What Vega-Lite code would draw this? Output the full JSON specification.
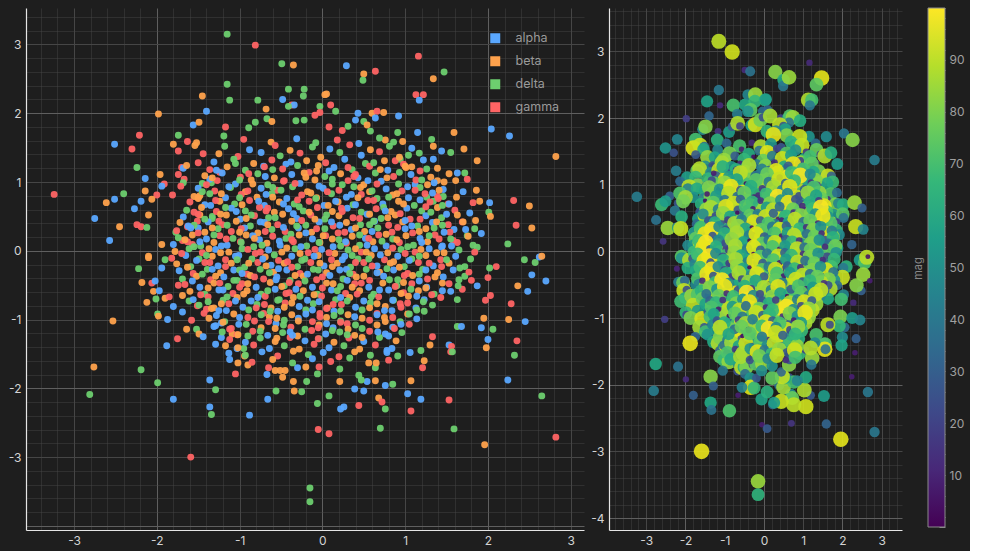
{
"$schema":"https://vega.github.io/schema/vega-lite/v6.json",
"background":"#1e1e1e",
"padding":{"left":8,"top":2,"right":5,"bottom":5},
"config":{"view":{"stroke":null},"font":"Inter"},
"datasets":{"pts":[
{"x":-1.15,"y":3.15,"cat":"delta","mag":90},{"x":-0.81,"y":2.99,"cat":"gamma","mag":93},{"x":-0.49,"y":2.72,"cat":"delta","mag":12},{"x":-0.35,"y":2.70,"cat":"beta","mag":38},{"x":-1.15,"y":2.42,"cat":"delta","mag":40},{"x":-1.45,"y":2.25,"cat":"beta","mag":58},{"x":-1.12,"y":2.19,"cat":"delta","mag":12},{"x":-1.40,"y":2.03,"cat":"alpha","mag":33},{"x":-1.98,"y":1.99,"cat":"beta","mag":18},{"x":-1.56,"y":1.83,"cat":"alpha","mag":47},{"x":-1.49,"y":1.87,"cat":"beta","mag":82},{"x":-1.17,"y":1.80,"cat":"gamma","mag":15},{"x":-1.19,"y":1.67,"cat":"delta","mag":64},{"x":-0.89,"y":1.79,"cat":"delta","mag":55},{"x":-0.81,"y":1.87,"cat":"delta","mag":28},{"x":-0.78,"y":2.19,"cat":"delta","mag":71},{"x":-0.48,"y":2.20,"cat":"alpha","mag":60},{"x":-0.41,"y":2.35,"cat":"delta","mag":45},{"x":-0.22,"y":2.35,"cat":"delta","mag":85},{"x":-0.23,"y":2.25,"cat":"delta","mag":66},{"x":-0.37,"y":2.12,"cat":"gamma","mag":30},{"x":-0.34,"y":2.12,"cat":"alpha","mag":75},{"x":-0.41,"y":2.10,"cat":"delta","mag":50},{"x":-0.68,"y":2.06,"cat":"beta","mag":42},{"x":-0.67,"y":1.92,"cat":"delta","mag":88},{"x":-0.61,"y":1.88,"cat":"beta","mag":20},{"x":-0.32,"y":1.89,"cat":"delta","mag":57},{"x":-0.22,"y":1.90,"cat":"delta","mag":93},{"x":-0.03,"y":2.10,"cat":"delta","mag":35},{"x":-0.09,"y":1.97,"cat":"gamma","mag":78},{"x":-0.03,"y":2.01,"cat":"gamma","mag":24},{"x":0.03,"y":2.27,"cat":"beta","mag":62},
{"x":-2.21,"y":1.68,"cat":"gamma","mag":45},{"x":-2.51,"y":1.55,"cat":"alpha","mag":52},{"x":-2.30,"y":1.48,"cat":"gamma","mag":25},{"x":-1.74,"y":1.68,"cat":"delta","mag":70},{"x":-1.80,"y":1.55,"cat":"beta","mag":95},{"x":-1.63,"y":1.59,"cat":"gamma","mag":92},{"x":-1.52,"y":1.57,"cat":"beta","mag":36},{"x":-1.54,"y":1.53,"cat":"beta","mag":61},{"x":-1.74,"y":1.45,"cat":"gamma","mag":28},{"x":-1.44,"y":1.41,"cat":"gamma","mag":84},{"x":-1.50,"y":1.28,"cat":"gamma","mag":48},{"x":-2.24,"y":1.21,"cat":"delta","mag":42},{"x":-1.70,"y":1.21,"cat":"gamma","mag":76},{"x":-1.68,"y":1.20,"cat":"alpha","mag":38},{"x":-1.64,"y":1.24,"cat":"beta","mag":89},{"x":-1.96,"y":1.11,"cat":"beta","mag":56},{"x":-2.14,"y":1.05,"cat":"alpha","mag":35},{"x":-1.74,"y":1.11,"cat":"gamma","mag":67},{"x":-1.67,"y":1.04,"cat":"gamma","mag":22},{"x":-1.68,"y":0.99,"cat":"delta","mag":81},{"x":-1.91,"y":0.97,"cat":"gamma","mag":90},{"x":-1.94,"y":0.94,"cat":"alpha","mag":44},{"x":-1.71,"y":0.94,"cat":"gamma","mag":60},{"x":-3.24,"y":0.82,"cat":"gamma","mag":42},{"x":-2.40,"y":0.83,"cat":"delta","mag":30},{"x":-2.14,"y":0.87,"cat":"beta","mag":72},{"x":-1.81,"y":0.81,"cat":"gamma","mag":51},{"x":-2.00,"y":0.81,"cat":"gamma","mag":86},{"x":-2.61,"y":0.70,"cat":"beta","mag":68},{"x":-2.51,"y":0.75,"cat":"alpha","mag":55},{"x":-2.19,"y":0.72,"cat":"alpha","mag":26},{"x":-2.06,"y":0.75,"cat":"beta","mag":79},{"x":-2.27,"y":0.61,"cat":"alpha","mag":40},{"x":-2.10,"y":0.52,"cat":"beta","mag":63},{"x":-2.75,"y":0.47,"cat":"alpha","mag":38},{"x":-2.45,"y":0.35,"cat":"beta","mag":85},{"x":-2.24,"y":0.38,"cat":"gamma","mag":17},{"x":-2.19,"y":0.35,"cat":"gamma","mag":58},{"x":-2.12,"y":0.34,"cat":"delta","mag":92},{"x":-2.57,"y":0.15,"cat":"alpha","mag":15},{"x":-1.94,"y":0.09,"cat":"beta","mag":47},{"x":-2.10,"y":-0.08,"cat":"beta","mag":74},{"x":-1.50,"y":0.77,"cat":"gamma","mag":34},{"x":-1.48,"y":0.80,"cat":"beta","mag":88},{"x":-1.34,"y":0.99,"cat":"delta","mag":57},{"x":-1.36,"y":1.04,"cat":"alpha","mag":93},{"x":-1.24,"y":1.14,"cat":"gamma","mag":29},{"x":-1.48,"y":0.52,"cat":"beta","mag":61},{"x":-1.51,"y":0.43,"cat":"gamma","mag":82},{"x":-1.63,"y":0.35,"cat":"gamma","mag":45},{"x":-1.77,"y":0.27,"cat":"delta","mag":70},{"x":-1.69,"y":0.15,"cat":"gamma","mag":23},{"x":-1.57,"y":0.09,"cat":"gamma","mag":91},{"x":-1.50,"y":0.33,"cat":"alpha","mag":54},{"x":-1.33,"y":0.50,"cat":"delta","mag":80},
{"x":0.29,"y":2.69,"cat":"alpha","mag":82},{"x":0.50,"y":2.57,"cat":"beta","mag":60},{"x":0.49,"y":2.48,"cat":"delta","mag":40},{"x":0.64,"y":2.61,"cat":"gamma","mag":85},{"x":1.16,"y":2.83,"cat":"gamma","mag":12},{"x":1.47,"y":2.60,"cat":"delta","mag":96},{"x":1.34,"y":2.50,"cat":"beta","mag":75},{"x":1.13,"y":2.27,"cat":"gamma","mag":88},{"x":1.22,"y":2.27,"cat":"gamma","mag":70},{"x":1.17,"y":2.19,"cat":"alpha","mag":40},{"x":0.05,"y":2.28,"cat":"beta","mag":55},{"x":0.10,"y":2.12,"cat":"gamma","mag":33},{"x":0.16,"y":2.03,"cat":"delta","mag":87},{"x":0.08,"y":1.80,"cat":"gamma","mag":66},{"x":0.43,"y":2.00,"cat":"alpha","mag":20},{"x":0.60,"y":2.00,"cat":"beta","mag":48},{"x":0.66,"y":2.03,"cat":"gamma","mag":73},{"x":0.74,"y":2.01,"cat":"beta","mag":85},{"x":0.64,"y":1.93,"cat":"alpha","mag":38},{"x":0.92,"y":1.96,"cat":"alpha","mag":62},{"x":0.40,"y":1.90,"cat":"alpha","mag":90},{"x":0.50,"y":1.88,"cat":"delta","mag":27},{"x":0.54,"y":1.83,"cat":"beta","mag":58},{"x":0.58,"y":1.74,"cat":"delta","mag":81},{"x":0.31,"y":1.81,"cat":"delta","mag":44},{"x":0.24,"y":1.75,"cat":"gamma","mag":96},{"x":1.15,"y":1.72,"cat":"alpha","mag":52},{"x":0.91,"y":1.72,"cat":"delta","mag":92},{"x":0.76,"y":1.61,"cat":"beta","mag":31},{"x":0.86,"y":1.58,"cat":"delta","mag":69},{"x":1.32,"y":1.62,"cat":"delta","mag":35},{"x":1.34,"y":1.52,"cat":"beta","mag":77},{"x":1.59,"y":1.72,"cat":"beta","mag":48},{"x":2.04,"y":1.77,"cat":"alpha","mag":40},{"x":2.26,"y":1.67,"cat":"alpha","mag":82},{"x":2.82,"y":1.37,"cat":"beta","mag":42},{"x":1.44,"y":1.45,"cat":"alpha","mag":21},{"x":1.55,"y":1.43,"cat":"delta","mag":88},{"x":1.71,"y":1.48,"cat":"beta","mag":63},{"x":1.34,"y":1.33,"cat":"alpha","mag":10},{"x":1.87,"y":1.31,"cat":"beta","mag":55},{"x":1.39,"y":1.20,"cat":"beta","mag":79},{"x":1.53,"y":1.12,"cat":"beta","mag":46},{"x":1.63,"y":1.13,"cat":"alpha","mag":92},{"x":1.72,"y":1.13,"cat":"delta","mag":30},{"x":1.75,"y":1.04,"cat":"gamma","mag":68},{"x":1.39,"y":1.02,"cat":"beta","mag":84},{"x":1.47,"y":1.00,"cat":"beta","mag":17},{"x":1.61,"y":1.02,"cat":"beta","mag":59},{"x":1.46,"y":0.89,"cat":"alpha","mag":40},{"x":1.70,"y":0.86,"cat":"alpha","mag":73},{"x":1.86,"y":0.88,"cat":"beta","mag":36},{"x":1.39,"y":0.79,"cat":"gamma","mag":90},{"x":1.26,"y":0.78,"cat":"delta","mag":25},{"x":1.34,"y":0.72,"cat":"delta","mag":64},{"x":1.52,"y":0.68,"cat":"gamma","mag":57},{"x":1.62,"y":0.78,"cat":"beta","mag":14},{"x":1.82,"y":0.70,"cat":"gamma","mag":80},{"x":1.90,"y":0.72,"cat":"beta","mag":45},{"x":2.02,"y":0.70,"cat":"alpha","mag":62},{"x":2.31,"y":0.73,"cat":"gamma","mag":85},{"x":2.50,"y":0.65,"cat":"beta","mag":30},{"x":1.78,"y":0.55,"cat":"alpha","mag":52},{"x":2.01,"y":0.56,"cat":"delta","mag":74},{"x":2.03,"y":0.50,"cat":"beta","mag":38},{"x":1.69,"y":0.42,"cat":"gamma","mag":91},{"x":1.85,"y":0.44,"cat":"beta","mag":20},{"x":1.84,"y":0.32,"cat":"delta","mag":66},{"x":1.92,"y":0.25,"cat":"alpha","mag":48},{"x":2.34,"y":0.37,"cat":"gamma","mag":92},{"x":2.53,"y":0.33,"cat":"beta","mag":45},{"x":1.75,"y":0.22,"cat":"delta","mag":83},{"x":1.59,"y":0.31,"cat":"alpha","mag":28},{"x":1.58,"y":0.15,"cat":"gamma","mag":71},{"x":1.87,"y":0.05,"cat":"delta","mag":57},{"x":2.24,"y":0.10,"cat":"delta","mag":32},{"x":1.44,"y":0.05,"cat":"alpha","mag":94},{"x":1.04,"y":1.39,"cat":"delta","mag":62},{"x":1.08,"y":1.22,"cat":"beta","mag":37},{"x":0.94,"y":1.33,"cat":"delta","mag":85},{"x":0.88,"y":1.31,"cat":"gamma","mag":19},{"x":1.12,"y":0.96,"cat":"alpha","mag":71},
{"x":-2.10,"y":-0.10,"cat":"beta","mag":50},{"x":-1.90,"y":-0.13,"cat":"delta","mag":88},{"x":-2.22,"y":-0.26,"cat":"delta","mag":10},{"x":-1.94,"y":-0.25,"cat":"alpha","mag":62},{"x":-2.18,"y":-0.46,"cat":"beta","mag":42},{"x":-2.06,"y":-0.47,"cat":"gamma","mag":77},{"x":-2.02,"y":-0.44,"cat":"alpha","mag":33},{"x":-2.04,"y":-0.59,"cat":"beta","mag":91},{"x":-1.97,"y":-0.58,"cat":"alpha","mag":24},{"x":-2.01,"y":-0.70,"cat":"delta","mag":58},{"x":-2.12,"y":-0.75,"cat":"beta","mag":69},{"x":-1.90,"y":-0.69,"cat":"beta","mag":36},{"x":-1.85,"y":-0.67,"cat":"gamma","mag":84},{"x":-1.74,"y":-0.50,"cat":"gamma","mag":47},{"x":-1.69,"y":-0.65,"cat":"beta","mag":73},{"x":-1.61,"y":-0.73,"cat":"delta","mag":29},{"x":-1.80,"y":-0.81,"cat":"alpha","mag":90},{"x":-1.69,"y":-0.89,"cat":"alpha","mag":55},{"x":-1.99,"y":-0.92,"cat":"delta","mag":66},{"x":-1.98,"y":-0.95,"cat":"beta","mag":21},{"x":-1.87,"y":-1.00,"cat":"alpha","mag":80},{"x":-2.53,"y":-1.02,"cat":"beta","mag":18},{"x":-1.58,"y":-1.01,"cat":"gamma","mag":94},{"x":-1.51,"y":-0.80,"cat":"gamma","mag":39},{"x":-1.40,"y":-0.85,"cat":"gamma","mag":61},{"x":-1.64,"y":-1.14,"cat":"beta","mag":86},{"x":-1.52,"y":-1.14,"cat":"delta","mag":27},{"x":-1.49,"y":-1.21,"cat":"beta","mag":70},{"x":-1.44,"y":-1.25,"cat":"alpha","mag":52},{"x":-1.75,"y":-1.28,"cat":"gamma","mag":33},{"x":-1.88,"y":-1.38,"cat":"alpha","mag":97},{"x":-1.31,"y":-1.10,"cat":"alpha","mag":45},{"x":-1.22,"y":-1.05,"cat":"alpha","mag":78},{"x":-1.22,"y":-1.26,"cat":"alpha","mag":14},{"x":-1.29,"y":-1.36,"cat":"alpha","mag":60},{"x":-1.17,"y":-1.38,"cat":"beta","mag":88},{"x":-1.13,"y":-1.49,"cat":"alpha","mag":31},{"x":-1.12,"y":-1.58,"cat":"alpha","mag":75},{"x":-1.03,"y":-1.42,"cat":"alpha","mag":50},{"x":-0.95,"y":-1.42,"cat":"delta","mag":93},{"x":-0.94,"y":-1.53,"cat":"beta","mag":22},{"x":-1.02,"y":-1.63,"cat":"beta","mag":68},{"x":-0.90,"y":-1.66,"cat":"beta","mag":84},{"x":-1.05,"y":-1.79,"cat":"gamma","mag":40},{"x":-1.09,"y":-1.21,"cat":"beta","mag":57},{"x":-1.03,"y":-1.22,"cat":"gamma","mag":82},{"x":-2.76,"y":-1.69,"cat":"beta","mag":60},{"x":-2.19,"y":-1.73,"cat":"delta","mag":38},{"x":-1.99,"y":-1.92,"cat":"delta","mag":12},{"x":-2.81,"y":-2.09,"cat":"delta","mag":42},{"x":-1.80,"y":-2.16,"cat":"alpha","mag":30},{"x":-1.36,"y":-1.88,"cat":"alpha","mag":82},{"x":-1.29,"y":-2.02,"cat":"delta","mag":30},{"x":-1.36,"y":-2.27,"cat":"alpha","mag":60},{"x":-1.34,"y":-2.38,"cat":"delta","mag":38},{"x":-0.88,"y":-2.39,"cat":"alpha","mag":72},{"x":-1.59,"y":-3.00,"cat":"gamma","mag":97},{"x":-0.65,"y":-1.70,"cat":"gamma","mag":46},{"x":-0.67,"y":-1.80,"cat":"alpha","mag":25},{"x":-0.57,"y":-1.74,"cat":"beta","mag":90},{"x":-0.51,"y":-1.74,"cat":"beta","mag":63},{"x":-0.45,"y":-1.74,"cat":"beta","mag":81},{"x":-0.48,"y":-1.84,"cat":"beta","mag":36},{"x":-0.30,"y":-1.70,"cat":"alpha","mag":17},{"x":-0.20,"y":-1.69,"cat":"beta","mag":74},{"x":-0.35,"y":-1.90,"cat":"beta","mag":52},{"x":-0.34,"y":-2.04,"cat":"beta","mag":95},{"x":-0.56,"y":-2.04,"cat":"delta","mag":44},{"x":-0.25,"y":-2.05,"cat":"delta","mag":66},{"x":-0.19,"y":-1.90,"cat":"delta","mag":28},{"x":-0.66,"y":-2.16,"cat":"alpha","mag":8},{"x":-0.06,"y":-2.22,"cat":"delta","mag":58},{"x":-0.05,"y":-2.60,"cat":"gamma","mag":8},{"x":-0.04,"y":-1.69,"cat":"gamma","mag":85},{"x":-0.06,"y":-1.79,"cat":"delta","mag":49},{"x":-0.15,"y":-3.45,"cat":"delta","mag":85},{"x":-0.15,"y":-3.65,"cat":"delta","mag":65},
{"x":2.44,"y":-0.13,"cat":"delta","mag":55},{"x":2.57,"y":-0.17,"cat":"delta","mag":72},{"x":2.62,"y":-0.09,"cat":"alpha","mag":90},{"x":2.65,"y":-0.08,"cat":"beta","mag":5},{"x":2.53,"y":-0.35,"cat":"alpha","mag":85},{"x":2.70,"y":-0.44,"cat":"alpha","mag":8},{"x":2.48,"y":-0.59,"cat":"alpha","mag":30},{"x":2.36,"y":-0.51,"cat":"beta","mag":82},{"x":2.10,"y":-0.23,"cat":"gamma","mag":64},{"x":2.02,"y":-0.25,"cat":"delta","mag":40},{"x":2.00,"y":-0.39,"cat":"gamma","mag":92},{"x":1.66,"y":-0.25,"cat":"delta","mag":27},{"x":1.72,"y":-0.37,"cat":"delta","mag":76},{"x":1.80,"y":-0.43,"cat":"gamma","mag":51},{"x":1.87,"y":-0.51,"cat":"alpha","mag":35},{"x":1.69,"y":-0.56,"cat":"gamma","mag":88},{"x":1.63,"y":-0.71,"cat":"delta","mag":60},{"x":2.03,"y":-0.65,"cat":"gamma","mag":45},{"x":1.97,"y":-0.72,"cat":"gamma","mag":70},{"x":2.28,"y":-0.77,"cat":"gamma","mag":12},{"x":1.95,"y":-0.98,"cat":"beta","mag":80},{"x":2.25,"y":-1.00,"cat":"beta","mag":55},{"x":2.45,"y":-1.03,"cat":"alpha","mag":45},{"x":2.06,"y":-1.14,"cat":"delta","mag":35},{"x":1.92,"y":-1.12,"cat":"alpha","mag":66},{"x":1.63,"y":-1.10,"cat":"delta","mag":90},{"x":1.68,"y":-1.10,"cat":"alpha","mag":22},{"x":2.00,"y":-1.29,"cat":"alpha","mag":48},{"x":1.98,"y":-1.41,"cat":"beta","mag":58},{"x":2.35,"y":-1.31,"cat":"gamma","mag":30},{"x":2.32,"y":-1.52,"cat":"delta","mag":8},{"x":1.53,"y":-1.37,"cat":"alpha","mag":42},{"x":1.56,"y":-1.39,"cat":"gamma","mag":73},{"x":1.55,"y":-1.47,"cat":"gamma","mag":96},{"x":1.57,"y":-1.47,"cat":"delta","mag":37},{"x":2.24,"y":-1.88,"cat":"alpha","mag":8},{"x":2.65,"y":-2.11,"cat":"delta","mag":40},{"x":2.82,"y":-2.71,"cat":"gamma","mag":40},{"x":1.96,"y":-2.82,"cat":"beta","mag":96},{"x":1.59,"y":-2.59,"cat":"delta","mag":32},{"x":1.53,"y":-2.17,"cat":"gamma","mag":55},{"x":1.19,"y":-2.16,"cat":"alpha","mag":28},{"x":1.07,"y":-2.33,"cat":"gamma","mag":93},{"x":1.03,"y":-2.08,"cat":"alpha","mag":88},{"x":1.07,"y":-1.89,"cat":"beta","mag":61},{"x":0.70,"y":-2.58,"cat":"delta","mag":15},{"x":0.68,"y":-2.14,"cat":"beta","mag":47},{"x":0.72,"y":-2.20,"cat":"gamma","mag":77},{"x":0.76,"y":-2.30,"cat":"delta","mag":90},{"x":0.44,"y":-2.25,"cat":"gamma","mag":92},{"x":0.22,"y":-2.30,"cat":"alpha","mag":30},{"x":0.26,"y":-2.27,"cat":"alpha","mag":56},{"x":0.08,"y":-2.66,"cat":"gamma","mag":28},{"x":0.08,"y":-2.11,"cat":"delta","mag":64},{"x":0.39,"y":-2.01,"cat":"alpha","mag":38},{"x":0.50,"y":-2.04,"cat":"alpha","mag":86},{"x":0.64,"y":-1.89,"cat":"beta","mag":22},{"x":0.76,"y":-1.96,"cat":"alpha","mag":70},{"x":0.85,"y":-1.94,"cat":"delta","mag":45},{"x":0.54,"y":-1.90,"cat":"alpha","mag":59},{"x":0.47,"y":-1.88,"cat":"delta","mag":91},{"x":0.44,"y":-1.81,"cat":"delta","mag":33},{"x":0.21,"y":-1.90,"cat":"beta","mag":76},{"x":0.21,"y":-1.72,"cat":"delta","mag":50},{"x":0.91,"y":-1.53,"cat":"delta","mag":67},{"x":1.06,"y":-1.48,"cat":"alpha","mag":19},{"x":1.23,"y":-1.60,"cat":"beta","mag":85},{"x":1.21,"y":-1.70,"cat":"gamma","mag":40},{"x":0.78,"y":-1.45,"cat":"alpha","mag":58},{"x":0.64,"y":-1.70,"cat":"delta","mag":82},{"x":0.65,"y":-1.63,"cat":"beta","mag":27},{"x":1.33,"y":-1.25,"cat":"gamma","mag":71},{"x":1.30,"y":-1.37,"cat":"beta","mag":46},{"x":1.19,"y":-1.45,"cat":"delta","mag":89},
{"x":-0.95,"y":1.62,"cat":"gamma","mag":34},{"x":-0.62,"y":1.58,"cat":"beta","mag":71},{"x":-0.31,"y":1.63,"cat":"alpha","mag":12},{"x":-0.08,"y":1.57,"cat":"delta","mag":88},{"x":0.18,"y":1.61,"cat":"gamma","mag":53},{"x":0.44,"y":1.56,"cat":"alpha","mag":27},{"x":0.69,"y":1.64,"cat":"delta","mag":64},{"x":0.97,"y":1.59,"cat":"beta","mag":91},
{"x":-1.18,"y":1.52,"cat":"delta","mag":45},{"x":-0.88,"y":1.47,"cat":"alpha","mag":79},{"x":-0.57,"y":1.53,"cat":"gamma","mag":8},{"x":-0.39,"y":1.46,"cat":"beta","mag":62},{"x":-0.12,"y":1.51,"cat":"delta","mag":37},{"x":0.09,"y":1.48,"cat":"alpha","mag":95},{"x":0.33,"y":1.54,"cat":"gamma","mag":21},{"x":0.58,"y":1.47,"cat":"beta","mag":73},{"x":0.81,"y":1.52,"cat":"delta","mag":49},{"x":1.08,"y":1.49,"cat":"alpha","mag":16},
{"x":-1.25,"y":1.41,"cat":"beta","mag":58},{"x":-1.02,"y":1.37,"cat":"gamma","mag":84},{"x":-0.74,"y":1.43,"cat":"alpha","mag":29},{"x":-0.51,"y":1.38,"cat":"delta","mag":66},{"x":-0.27,"y":1.42,"cat":"gamma","mag":3},{"x":-0.02,"y":1.36,"cat":"beta","mag":77},{"x":0.21,"y":1.43,"cat":"delta","mag":41},{"x":0.47,"y":1.39,"cat":"alpha","mag":92},{"x":0.69,"y":1.44,"cat":"gamma","mag":55},{"x":0.93,"y":1.36,"cat":"beta","mag":19},{"x":1.17,"y":1.42,"cat":"delta","mag":70},
{"x":-1.31,"y":1.29,"cat":"alpha","mag":24},{"x":-1.07,"y":1.33,"cat":"delta","mag":87},{"x":-0.83,"y":1.27,"cat":"beta","mag":51},{"x":-0.61,"y":1.32,"cat":"gamma","mag":9},{"x":-0.44,"y":1.26,"cat":"alpha","mag":68},{"x":-0.19,"y":1.31,"cat":"beta","mag":39},{"x":0.04,"y":1.28,"cat":"gamma","mag":83},{"x":0.27,"y":1.33,"cat":"alpha","mag":14},{"x":0.52,"y":1.27,"cat":"delta","mag":61},{"x":0.75,"y":1.31,"cat":"beta","mag":97},{"x":0.98,"y":1.26,"cat":"gamma","mag":33},{"x":1.22,"y":1.32,"cat":"alpha","mag":75},
{"x":-1.36,"y":1.18,"cat":"gamma","mag":47},{"x":-1.15,"y":1.22,"cat":"beta","mag":90},{"x":-0.93,"y":1.17,"cat":"delta","mag":26},{"x":-0.71,"y":1.23,"cat":"alpha","mag":63},{"x":-0.48,"y":1.19,"cat":"gamma","mag":81},{"x":-0.30,"y":1.24,"cat":"delta","mag":7},{"x":-0.07,"y":1.16,"cat":"beta","mag":56},{"x":0.14,"y":1.21,"cat":"alpha","mag":34},{"x":0.36,"y":1.18,"cat":"delta","mag":89},{"x":0.57,"y":1.23,"cat":"gamma","mag":44},{"x":0.79,"y":1.17,"cat":"alpha","mag":72},{"x":1.01,"y":1.21,"cat":"beta","mag":18},{"x":1.26,"y":1.19,"cat":"delta","mag":60},
{"x":-1.42,"y":1.09,"cat":"beta","mag":66},{"x":-1.21,"y":1.13,"cat":"alpha","mag":31},{"x":-0.99,"y":1.07,"cat":"gamma","mag":94},{"x":-0.78,"y":1.12,"cat":"delta","mag":52},{"x":-0.58,"y":1.06,"cat":"beta","mag":11},{"x":-0.37,"y":1.11,"cat":"alpha","mag":79},{"x":-0.16,"y":1.14,"cat":"gamma","mag":42},{"x":0.03,"y":1.08,"cat":"delta","mag":87},{"x":0.22,"y":1.12,"cat":"beta","mag":23},{"x":0.43,"y":1.06,"cat":"alpha","mag":68},{"x":0.64,"y":1.13,"cat":"delta","mag":99},{"x":0.86,"y":1.08,"cat":"gamma","mag":38},{"x":1.07,"y":1.11,"cat":"alpha","mag":57},{"x":1.31,"y":1.07,"cat":"beta","mag":82},
{"x":-1.45,"y":0.98,"cat":"delta","mag":40},{"x":-1.27,"y":1.02,"cat":"gamma","mag":76},{"x":-1.05,"y":0.97,"cat":"alpha","mag":15},{"x":-0.86,"y":1.03,"cat":"beta","mag":93},{"x":-0.66,"y":0.96,"cat":"delta","mag":48},{"x":-0.47,"y":1.01,"cat":"gamma","mag":71},{"x":-0.27,"y":0.98,"cat":"alpha","mag":27},{"x":-0.09,"y":1.03,"cat":"beta","mag":85},{"x":0.12,"y":0.97,"cat":"delta","mag":5},{"x":0.31,"y":1.02,"cat":"gamma","mag":62},{"x":0.50,"y":0.96,"cat":"beta","mag":78},{"x":0.71,"y":1.01,"cat":"alpha","mag":36},{"x":0.92,"y":0.97,"cat":"delta","mag":90},{"x":1.13,"y":1.03,"cat":"gamma","mag":54},{"x":1.35,"y":0.99,"cat":"alpha","mag":21},
{"x":-1.50,"y":0.91,"cat":"alpha","mag":59},{"x":-1.30,"y":0.87,"cat":"gamma","mag":88},{"x":-1.11,"y":0.92,"cat":"delta","mag":30},{"x":-0.93,"y":0.86,"cat":"beta","mag":72},{"x":-0.74,"y":0.91,"cat":"alpha","mag":13},{"x":-0.55,"y":0.88,"cat":"gamma","mag":97},{"x":-0.36,"y":0.93,"cat":"delta","mag":45},{"x":-0.18,"y":0.86,"cat":"beta","mag":66},{"x":0.01,"y":0.91,"cat":"alpha","mag":24},{"x":0.20,"y":0.88,"cat":"gamma","mag":81},{"x":0.38,"y":0.93,"cat":"delta","mag":50},{"x":0.57,"y":0.86,"cat":"beta","mag":92},{"x":0.77,"y":0.90,"cat":"alpha","mag":17},{"x":0.96,"y":0.87,"cat":"gamma","mag":69},{"x":1.18,"y":0.92,"cat":"delta","mag":38},{"x":1.41,"y":0.88,"cat":"beta","mag":84},
{"x":-1.55,"y":0.79,"cat":"beta","mag":44},{"x":-1.36,"y":0.83,"cat":"delta","mag":80},{"x":-1.17,"y":0.77,"cat":"alpha","mag":22},{"x":-0.98,"y":0.82,"cat":"gamma","mag":65},{"x":-0.79,"y":0.78,"cat":"beta","mag":96},{"x":-0.61,"y":0.83,"cat":"delta","mag":33},{"x":-0.43,"y":0.76,"cat":"alpha","mag":74},{"x":-0.25,"y":0.81,"cat":"gamma","mag":10},{"x":-0.07,"y":0.77,"cat":"beta","mag":58},{"x":0.11,"y":0.83,"cat":"delta","mag":86},{"x":0.29,"y":0.78,"cat":"alpha","mag":41},{"x":0.47,"y":0.82,"cat":"gamma","mag":70},{"x":0.66,"y":0.76,"cat":"delta","mag":28},{"x":0.85,"y":0.81,"cat":"beta","mag":91},{"x":1.04,"y":0.77,"cat":"alpha","mag":53},{"x":1.24,"y":0.83,"cat":"gamma","mag":19},{"x":1.46,"y":0.79,"cat":"delta","mag":77},
{"x":-1.60,"y":0.71,"cat":"gamma","mag":63},{"x":-1.42,"y":0.67,"cat":"alpha","mag":35},{"x":-1.24,"y":0.72,"cat":"beta","mag":89},{"x":-1.06,"y":0.68,"cat":"delta","mag":47},{"x":-0.88,"y":0.73,"cat":"gamma","mag":6},{"x":-0.70,"y":0.66,"cat":"alpha","mag":82},{"x":-0.52,"y":0.71,"cat":"beta","mag":57},{"x":-0.34,"y":0.68,"cat":"delta","mag":94},{"x":-0.16,"y":0.72,"cat":"gamma","mag":32},{"x":0.02,"y":0.66,"cat":"alpha","mag":71},{"x":0.19,"y":0.71,"cat":"beta","mag":15},{"x":0.37,"y":0.67,"cat":"delta","mag":88},{"x":0.55,"y":0.73,"cat":"gamma","mag":50},{"x":0.73,"y":0.68,"cat":"alpha","mag":67},{"x":0.92,"y":0.72,"cat":"beta","mag":25},{"x":1.11,"y":0.66,"cat":"delta","mag":79},{"x":1.30,"y":0.71,"cat":"gamma","mag":43},{"x":1.53,"y":0.68,"cat":"alpha","mag":96},
{"x":-1.64,"y":0.59,"cat":"delta","mag":27},{"x":-1.46,"y":0.63,"cat":"beta","mag":84},{"x":-1.28,"y":0.57,"cat":"gamma","mag":52},{"x":-1.10,"y":0.62,"cat":"alpha","mag":9},{"x":-0.93,"y":0.58,"cat":"delta","mag":75},{"x":-0.76,"y":0.63,"cat":"gamma","mag":39},{"x":-0.58,"y":0.56,"cat":"beta","mag":92},{"x":-0.41,"y":0.61,"cat":"alpha","mag":61},{"x":-0.23,"y":0.58,"cat":"delta","mag":18},{"x":-0.06,"y":0.63,"cat":"gamma","mag":86},{"x":0.12,"y":0.57,"cat":"beta","mag":46},{"x":0.30,"y":0.62,"cat":"alpha","mag":73},{"x":0.47,"y":0.56,"cat":"delta","mag":99},{"x":0.65,"y":0.61,"cat":"gamma","mag":31},{"x":0.83,"y":0.57,"cat":"beta","mag":65},{"x":1.02,"y":0.62,"cat":"alpha","mag":12},{"x":1.20,"y":0.58,"cat":"delta","mag":80},{"x":1.39,"y":0.63,"cat":"beta","mag":48},{"x":1.60,"y":0.59,"cat":"gamma","mag":70},
{"x":-1.68,"y":0.49,"cat":"alpha","mag":56},{"x":-1.50,"y":0.53,"cat":"gamma","mag":91},{"x":-1.33,"y":0.47,"cat":"delta","mag":23},{"x":-1.16,"y":0.52,"cat":"beta","mag":68},{"x":-0.99,"y":0.46,"cat":"alpha","mag":85},{"x":-0.82,"y":0.51,"cat":"gamma","mag":14},{"x":-0.65,"y":0.48,"cat":"delta","mag":77},{"x":-0.48,"y":0.53,"cat":"beta","mag":40},{"x":-0.31,"y":0.47,"cat":"alpha","mag":95},{"x":-0.14,"y":0.52,"cat":"gamma","mag":58},{"x":0.03,"y":0.46,"cat":"delta","mag":29},{"x":0.20,"y":0.51,"cat":"beta","mag":83},{"x":0.37,"y":0.48,"cat":"gamma","mag":8},{"x":0.54,"y":0.53,"cat":"alpha","mag":64},{"x":0.71,"y":0.47,"cat":"delta","mag":90},{"x":0.88,"y":0.52,"cat":"beta","mag":36},{"x":1.06,"y":0.46,"cat":"gamma","mag":72},{"x":1.25,"y":0.51,"cat":"alpha","mag":20},{"x":1.44,"y":0.48,"cat":"delta","mag":87},{"x":1.63,"y":0.52,"cat":"beta","mag":51},
{"x":-1.72,"y":0.41,"cat":"beta","mag":33},{"x":-1.55,"y":0.37,"cat":"delta","mag":78},{"x":-1.38,"y":0.42,"cat":"alpha","mag":61},{"x":-1.21,"y":0.38,"cat":"gamma","mag":97},{"x":-1.04,"y":0.43,"cat":"beta","mag":26},{"x":-0.87,"y":0.36,"cat":"delta","mag":69},{"x":-0.70,"y":0.41,"cat":"alpha","mag":44},{"x":-0.54,"y":0.38,"cat":"gamma","mag":86},{"x":-0.37,"y":0.43,"cat":"beta","mag":11},{"x":-0.20,"y":0.37,"cat":"delta","mag":75},{"x":-0.04,"y":0.42,"cat":"alpha","mag":53},{"x":0.13,"y":0.36,"cat":"gamma","mag":92},{"x":0.29,"y":0.41,"cat":"beta","mag":38},{"x":0.46,"y":0.38,"cat":"delta","mag":67},{"x":0.63,"y":0.43,"cat":"alpha","mag":4},{"x":0.80,"y":0.37,"cat":"gamma","mag":81},{"x":0.97,"y":0.42,"cat":"beta","mag":59},{"x":1.15,"y":0.36,"cat":"delta","mag":28},{"x":1.33,"y":0.41,"cat":"alpha","mag":89},{"x":1.52,"y":0.38,"cat":"gamma","mag":46},{"x":1.70,"y":0.42,"cat":"beta","mag":73},
{"x":-1.76,"y":0.29,"cat":"gamma","mag":49},{"x":-1.59,"y":0.33,"cat":"alpha","mag":87},{"x":-1.42,"y":0.27,"cat":"beta","mag":18},{"x":-1.26,"y":0.32,"cat":"delta","mag":64},{"x":-1.10,"y":0.28,"cat":"gamma","mag":93},{"x":-0.94,"y":0.33,"cat":"alpha","mag":37},{"x":-0.78,"y":0.26,"cat":"beta","mag":71},{"x":-0.61,"y":0.31,"cat":"delta","mag":25},{"x":-0.45,"y":0.28,"cat":"gamma","mag":84},{"x":-0.29,"y":0.33,"cat":"alpha","mag":57},{"x":-0.13,"y":0.27,"cat":"beta","mag":98},{"x":0.03,"y":0.32,"cat":"delta","mag":42},{"x":0.19,"y":0.26,"cat":"gamma","mag":13},{"x":0.35,"y":0.31,"cat":"alpha","mag":79},{"x":0.51,"y":0.28,"cat":"beta","mag":61},{"x":0.67,"y":0.33,"cat":"delta","mag":90},{"x":0.84,"y":0.27,"cat":"gamma","mag":34},{"x":1.00,"y":0.32,"cat":"alpha","mag":72},{"x":1.17,"y":0.28,"cat":"beta","mag":8},{"x":1.35,"y":0.33,"cat":"delta","mag":66},{"x":1.54,"y":0.27,"cat":"gamma","mag":95},{"x":1.73,"y":0.31,"cat":"alpha","mag":41},
{"x":-1.74,"y":0.19,"cat":"delta","mag":76},{"x":-1.57,"y":0.23,"cat":"beta","mag":30},{"x":-1.40,"y":0.17,"cat":"alpha","mag":92},{"x":-1.24,"y":0.22,"cat":"gamma","mag":55},{"x":-1.08,"y":0.18,"cat":"delta","mag":16},{"x":-0.92,"y":0.23,"cat":"beta","mag":83},{"x":-0.76,"y":0.16,"cat":"alpha","mag":47},{"x":-0.60,"y":0.21,"cat":"gamma","mag":99},{"x":-0.44,"y":0.18,"cat":"delta","mag":62},{"x":-0.28,"y":0.23,"cat":"beta","mag":21},{"x":-0.12,"y":0.17,"cat":"alpha","mag":88},{"x":0.04,"y":0.22,"cat":"gamma","mag":50},{"x":0.20,"y":0.16,"cat":"delta","mag":73},{"x":0.36,"y":0.21,"cat":"beta","mag":96},{"x":0.52,"y":0.18,"cat":"alpha","mag":35},{"x":0.68,"y":0.23,"cat":"gamma","mag":68},{"x":0.85,"y":0.17,"cat":"delta","mag":12},{"x":1.01,"y":0.22,"cat":"beta","mag":85},{"x":1.18,"y":0.18,"cat":"alpha","mag":43},{"x":1.36,"y":0.23,"cat":"gamma","mag":77},{"x":1.55,"y":0.17,"cat":"delta","mag":26},{"x":1.76,"y":0.21,"cat":"beta","mag":63},
{"x":-1.80,"y":0.09,"cat":"alpha","mag":52},{"x":-1.63,"y":0.13,"cat":"gamma","mag":89},{"x":-1.47,"y":0.07,"cat":"delta","mag":24},{"x":-1.31,"y":0.12,"cat":"beta","mag":70},{"x":-1.15,"y":0.08,"cat":"alpha","mag":97},{"x":-0.99,"y":0.13,"cat":"gamma","mag":39},{"x":-0.83,"y":0.06,"cat":"delta","mag":81},{"x":-0.67,"y":0.11,"cat":"beta","mag":58},{"x":-0.51,"y":0.08,"cat":"alpha","mag":10},{"x":-0.35,"y":0.13,"cat":"gamma","mag":76},{"x":-0.19,"y":0.07,"cat":"delta","mag":93},{"x":-0.03,"y":0.12,"cat":"beta","mag":45},{"x":0.13,"y":0.06,"cat":"alpha","mag":67},{"x":0.29,"y":0.11,"cat":"gamma","mag":87},{"x":0.45,"y":0.08,"cat":"delta","mag":31},{"x":0.61,"y":0.13,"cat":"beta","mag":74},{"x":0.77,"y":0.07,"cat":"alpha","mag":99},{"x":0.93,"y":0.12,"cat":"gamma","mag":53},{"x":1.10,"y":0.08,"cat":"delta","mag":19},{"x":1.27,"y":0.13,"cat":"beta","mag":82},{"x":1.45,"y":0.07,"cat":"alpha","mag":60},{"x":1.63,"y":0.12,"cat":"gamma","mag":36},{"x":1.82,"y":0.08,"cat":"delta","mag":78},
{"x":-1.78,"y":-0.01,"cat":"beta","mag":68},{"x":-1.61,"y":0.03,"cat":"delta","mag":33},{"x":-1.45,"y":-0.03,"cat":"gamma","mag":91},{"x":-1.29,"y":0.02,"cat":"alpha","mag":54},{"x":-1.13,"y":-0.02,"cat":"beta","mag":84},{"x":-0.97,"y":0.03,"cat":"delta","mag":17},{"x":-0.81,"y":-0.04,"cat":"gamma","mag":72},{"x":-0.65,"y":0.01,"cat":"alpha","mag":95},{"x":-0.49,"y":-0.02,"cat":"beta","mag":40},{"x":-0.33,"y":0.03,"cat":"delta","mag":86},{"x":-0.17,"y":-0.03,"cat":"gamma","mag":62},{"x":-0.01,"y":0.02,"cat":"alpha","mag":99},{"x":0.15,"y":-0.04,"cat":"beta","mag":28},{"x":0.31,"y":0.01,"cat":"delta","mag":79},{"x":0.47,"y":-0.02,"cat":"gamma","mag":91},{"x":0.63,"y":0.03,"cat":"alpha","mag":47},{"x":0.79,"y":-0.03,"cat":"beta","mag":83},{"x":0.95,"y":0.02,"cat":"delta","mag":6},{"x":1.12,"y":-0.02,"cat":"gamma","mag":66},{"x":1.29,"y":0.03,"cat":"alpha","mag":88},{"x":1.47,"y":-0.03,"cat":"beta","mag":35},{"x":1.65,"y":0.01,"cat":"delta","mag":74},{"x":1.84,"y":-0.02,"cat":"gamma","mag":50},
{"x":-1.82,"y":-0.11,"cat":"gamma","mag":27},{"x":-1.65,"y":-0.07,"cat":"alpha","mag":80},{"x":-1.49,"y":-0.12,"cat":"delta","mag":58},{"x":-1.33,"y":-0.08,"cat":"beta","mag":93},{"x":-1.17,"y":-0.13,"cat":"gamma","mag":14},{"x":-1.01,"y":-0.07,"cat":"alpha","mag":69},{"x":-0.85,"y":-0.12,"cat":"delta","mag":87},{"x":-0.69,"y":-0.09,"cat":"beta","mag":42},{"x":-0.53,"y":-0.14,"cat":"gamma","mag":98},{"x":-0.37,"y":-0.08,"cat":"alpha","mag":56},{"x":-0.21,"y":-0.12,"cat":"delta","mag":21},{"x":-0.05,"y":-0.07,"cat":"beta","mag":90},{"x":0.11,"y":-0.13,"cat":"gamma","mag":65},{"x":0.27,"y":-0.08,"cat":"alpha","mag":84},{"x":0.43,"y":-0.12,"cat":"delta","mag":9},{"x":0.59,"y":-0.07,"cat":"beta","mag":76},{"x":0.75,"y":-0.13,"cat":"gamma","mag":93},{"x":0.91,"y":-0.08,"cat":"alpha","mag":38},{"x":1.08,"y":-0.12,"cat":"delta","mag":71},{"x":1.25,"y":-0.07,"cat":"beta","mag":52},{"x":1.43,"y":-0.13,"cat":"gamma","mag":86},{"x":1.61,"y":-0.08,"cat":"alpha","mag":23},{"x":1.79,"y":-0.12,"cat":"delta","mag":67},
{"x":-1.76,"y":-0.19,"cat":"beta","mag":45},{"x":-1.59,"y":-0.23,"cat":"delta","mag":88},{"x":-1.42,"y":-0.17,"cat":"gamma","mag":31},{"x":-1.26,"y":-0.22,"cat":"alpha","mag":74},{"x":-1.10,"y":-0.18,"cat":"beta","mag":96},{"x":-0.94,"y":-0.24,"cat":"delta","mag":52},{"x":-0.78,"y":-0.17,"cat":"gamma","mag":19},{"x":-0.62,"y":-0.21,"cat":"alpha","mag":83},{"x":-0.46,"y":-0.18,"cat":"beta","mag":61},{"x":-0.30,"y":-0.23,"cat":"delta","mag":97},{"x":-0.14,"y":-0.17,"cat":"gamma","mag":44},{"x":0.02,"y":-0.22,"cat":"alpha","mag":72},{"x":0.18,"y":-0.18,"cat":"beta","mag":88},{"x":0.34,"y":-0.24,"cat":"delta","mag":30},{"x":0.50,"y":-0.17,"cat":"gamma","mag":95},{"x":0.66,"y":-0.22,"cat":"alpha","mag":57},{"x":0.82,"y":-0.18,"cat":"beta","mag":13},{"x":0.99,"y":-0.23,"cat":"delta","mag":79},{"x":1.16,"y":-0.17,"cat":"gamma","mag":48},{"x":1.34,"y":-0.22,"cat":"alpha","mag":90},{"x":1.53,"y":-0.18,"cat":"beta","mag":34},{"x":1.72,"y":-0.23,"cat":"delta","mag":70},
{"x":-1.73,"y":-0.29,"cat":"alpha","mag":60},{"x":-1.56,"y":-0.33,"cat":"gamma","mag":25},{"x":-1.39,"y":-0.27,"cat":"delta","mag":91},{"x":-1.23,"y":-0.32,"cat":"beta","mag":47},{"x":-1.07,"y":-0.28,"cat":"alpha","mag":78},{"x":-0.91,"y":-0.34,"cat":"gamma","mag":8},{"x":-0.75,"y":-0.27,"cat":"delta","mag":66},{"x":-0.59,"y":-0.31,"cat":"beta","mag":93},{"x":-0.43,"y":-0.28,"cat":"alpha","mag":35},{"x":-0.27,"y":-0.33,"cat":"gamma","mag":82},{"x":-0.11,"y":-0.27,"cat":"delta","mag":59},{"x":0.05,"y":-0.32,"cat":"beta","mag":99},{"x":0.21,"y":-0.28,"cat":"alpha","mag":41},{"x":0.37,"y":-0.34,"cat":"gamma","mag":73},{"x":0.53,"y":-0.27,"cat":"delta","mag":18},{"x":0.69,"y":-0.31,"cat":"beta","mag":87},{"x":0.86,"y":-0.28,"cat":"alpha","mag":54},{"x":1.03,"y":-0.33,"cat":"gamma","mag":29},{"x":1.21,"y":-0.27,"cat":"delta","mag":80},{"x":1.39,"y":-0.32,"cat":"beta","mag":62},{"x":1.58,"y":-0.28,"cat":"alpha","mag":94},{"x":1.77,"y":-0.31,"cat":"gamma","mag":39},
{"x":-1.69,"y":-0.41,"cat":"delta","mag":72},{"x":-1.52,"y":-0.37,"cat":"beta","mag":16},{"x":-1.35,"y":-0.42,"cat":"gamma","mag":85},{"x":-1.19,"y":-0.38,"cat":"alpha","mag":50},{"x":-1.03,"y":-0.43,"cat":"delta","mag":92},{"x":-0.87,"y":-0.36,"cat":"beta","mag":33},{"x":-0.71,"y":-0.41,"cat":"gamma","mag":68},{"x":-0.55,"y":-0.38,"cat":"alpha","mag":89},{"x":-0.39,"y":-0.43,"cat":"delta","mag":23},{"x":-0.23,"y":-0.37,"cat":"beta","mag":77},{"x":-0.07,"y":-0.42,"cat":"gamma","mag":96},{"x":0.09,"y":-0.36,"cat":"alpha","mag":46},{"x":0.25,"y":-0.41,"cat":"delta","mag":84},{"x":0.41,"y":-0.38,"cat":"beta","mag":11},{"x":0.57,"y":-0.43,"cat":"gamma","mag":63},{"x":0.74,"y":-0.37,"cat":"alpha","mag":91},{"x":0.91,"y":-0.42,"cat":"delta","mag":37},{"x":1.09,"y":-0.36,"cat":"beta","mag":75},{"x":1.27,"y":-0.41,"cat":"gamma","mag":55},{"x":1.46,"y":-0.38,"cat":"alpha","mag":20},{"x":1.65,"y":-0.42,"cat":"delta","mag":81},
{"x":-1.66,"y":-0.49,"cat":"gamma","mag":43},{"x":-1.48,"y":-0.53,"cat":"alpha","mag":87},{"x":-1.31,"y":-0.47,"cat":"beta","mag":28},{"x":-1.14,"y":-0.52,"cat":"delta","mag":70},{"x":-0.97,"y":-0.48,"cat":"gamma","mag":95},{"x":-0.80,"y":-0.53,"cat":"alpha","mag":14},{"x":-0.63,"y":-0.46,"cat":"beta","mag":59},{"x":-0.46,"y":-0.51,"cat":"delta","mag":83},{"x":-0.29,"y":-0.48,"cat":"gamma","mag":32},{"x":-0.12,"y":-0.53,"cat":"alpha","mag":76},{"x":0.05,"y":-0.47,"cat":"beta","mag":93},{"x":0.22,"y":-0.52,"cat":"delta","mag":48},{"x":0.39,"y":-0.48,"cat":"gamma","mag":66},{"x":0.56,"y":-0.53,"cat":"alpha","mag":7},{"x":0.73,"y":-0.47,"cat":"beta","mag":88},{"x":0.90,"y":-0.51,"cat":"delta","mag":52},{"x":1.08,"y":-0.48,"cat":"gamma","mag":79},{"x":1.26,"y":-0.53,"cat":"alpha","mag":38},{"x":1.45,"y":-0.47,"cat":"beta","mag":90},{"x":1.64,"y":-0.51,"cat":"delta","mag":25},
{"x":-1.60,"y":-0.59,"cat":"beta","mag":64},{"x":-1.42,"y":-0.63,"cat":"delta","mag":21},{"x":-1.25,"y":-0.57,"cat":"alpha","mag":86},{"x":-1.08,"y":-0.62,"cat":"gamma","mag":47},{"x":-0.91,"y":-0.58,"cat":"beta","mag":73},{"x":-0.74,"y":-0.63,"cat":"delta","mag":97},{"x":-0.57,"y":-0.56,"cat":"alpha","mag":30},{"x":-0.40,"y":-0.61,"cat":"gamma","mag":60},{"x":-0.23,"y":-0.58,"cat":"beta","mag":84},{"x":-0.06,"y":-0.63,"cat":"delta","mag":15},{"x":0.11,"y":-0.57,"cat":"alpha","mag":71},{"x":0.28,"y":-0.62,"cat":"gamma","mag":92},{"x":0.45,"y":-0.58,"cat":"beta","mag":40},{"x":0.62,"y":-0.63,"cat":"delta","mag":67},{"x":0.80,"y":-0.57,"cat":"alpha","mag":85},{"x":0.98,"y":-0.61,"cat":"gamma","mag":26},{"x":1.16,"y":-0.58,"cat":"beta","mag":58},{"x":1.35,"y":-0.63,"cat":"delta","mag":94},{"x":1.55,"y":-0.59,"cat":"alpha","mag":33},
{"x":-1.56,"y":-0.71,"cat":"alpha","mag":77},{"x":-1.38,"y":-0.67,"cat":"gamma","mag":42},{"x":-1.20,"y":-0.72,"cat":"delta","mag":90},{"x":-1.03,"y":-0.68,"cat":"beta","mag":12},{"x":-0.86,"y":-0.73,"cat":"alpha","mag":65},{"x":-0.69,"y":-0.66,"cat":"gamma","mag":86},{"x":-0.52,"y":-0.71,"cat":"delta","mag":49},{"x":-0.35,"y":-0.68,"cat":"beta","mag":96},{"x":-0.18,"y":-0.72,"cat":"alpha","mag":24},{"x":-0.01,"y":-0.66,"cat":"gamma","mag":78},{"x":0.16,"y":-0.71,"cat":"delta","mag":55},{"x":0.33,"y":-0.68,"cat":"beta","mag":89},{"x":0.50,"y":-0.73,"cat":"alpha","mag":36},{"x":0.68,"y":-0.67,"cat":"gamma","mag":70},{"x":0.86,"y":-0.72,"cat":"delta","mag":17},{"x":1.04,"y":-0.66,"cat":"beta","mag":82},{"x":1.23,"y":-0.71,"cat":"alpha","mag":61},{"x":1.43,"y":-0.68,"cat":"gamma","mag":44},
{"x":-1.49,"y":-0.79,"cat":"delta","mag":58},{"x":-1.31,"y":-0.83,"cat":"beta","mag":92},{"x":-1.13,"y":-0.77,"cat":"gamma","mag":34},{"x":-0.96,"y":-0.82,"cat":"alpha","mag":74},{"x":-0.79,"y":-0.78,"cat":"delta","mag":5},{"x":-0.62,"y":-0.83,"cat":"beta","mag":81},{"x":-0.45,"y":-0.76,"cat":"gamma","mag":63},{"x":-0.28,"y":-0.81,"cat":"alpha","mag":97},{"x":-0.11,"y":-0.77,"cat":"delta","mag":39},{"x":0.06,"y":-0.83,"cat":"beta","mag":71},{"x":0.23,"y":-0.78,"cat":"gamma","mag":20},{"x":0.40,"y":-0.82,"cat":"alpha","mag":87},{"x":0.58,"y":-0.76,"cat":"delta","mag":53},{"x":0.76,"y":-0.81,"cat":"beta","mag":93},{"x":0.94,"y":-0.77,"cat":"gamma","mag":31},{"x":1.13,"y":-0.83,"cat":"alpha","mag":68},{"x":1.33,"y":-0.79,"cat":"delta","mag":85},
{"x":-1.43,"y":-0.91,"cat":"gamma","mag":27},{"x":-1.25,"y":-0.87,"cat":"alpha","mag":83},{"x":-1.07,"y":-0.92,"cat":"beta","mag":50},{"x":-0.89,"y":-0.86,"cat":"delta","mag":91},{"x":-0.71,"y":-0.91,"cat":"gamma","mag":44},{"x":-0.54,"y":-0.88,"cat":"alpha","mag":15},{"x":-0.37,"y":-0.93,"cat":"beta","mag":76},{"x":-0.20,"y":-0.86,"cat":"delta","mag":59},{"x":-0.03,"y":-0.91,"cat":"gamma","mag":95},{"x":0.14,"y":-0.88,"cat":"alpha","mag":37},{"x":0.31,"y":-0.93,"cat":"beta","mag":64},{"x":0.48,"y":-0.86,"cat":"delta","mag":88},{"x":0.66,"y":-0.91,"cat":"gamma","mag":22},{"x":0.84,"y":-0.87,"cat":"alpha","mag":72},{"x":1.03,"y":-0.92,"cat":"beta","mag":47},{"x":1.23,"y":-0.88,"cat":"delta","mag":90},
{"x":-1.37,"y":-0.98,"cat":"beta","mag":69},{"x":-1.18,"y":-1.03,"cat":"delta","mag":18},{"x":-1.00,"y":-0.97,"cat":"alpha","mag":86},{"x":-0.82,"y":-1.02,"cat":"gamma","mag":52},{"x":-0.64,"y":-0.96,"cat":"beta","mag":94},{"x":-0.46,"y":-1.01,"cat":"delta","mag":30},{"x":-0.29,"y":-0.98,"cat":"alpha","mag":73},{"x":-0.12,"y":-1.03,"cat":"gamma","mag":10},{"x":0.05,"y":-0.97,"cat":"beta","mag":80},{"x":0.22,"y":-1.02,"cat":"delta","mag":57},{"x":0.39,"y":-0.96,"cat":"alpha","mag":98},{"x":0.57,"y":-1.01,"cat":"gamma","mag":41},{"x":0.75,"y":-0.97,"cat":"beta","mag":66},{"x":0.94,"y":-1.03,"cat":"delta","mag":25},{"x":1.14,"y":-0.99,"cat":"alpha","mag":84},
{"x":-1.29,"y":-1.09,"cat":"alpha","mag":46},{"x":-1.10,"y":-1.13,"cat":"gamma","mag":89},{"x":-0.92,"y":-1.07,"cat":"delta","mag":33},{"x":-0.74,"y":-1.12,"cat":"beta","mag":71},{"x":-0.56,"y":-1.06,"cat":"alpha","mag":97},{"x":-0.38,"y":-1.11,"cat":"gamma","mag":19},{"x":-0.21,"y":-1.14,"cat":"delta","mag":62},{"x":-0.04,"y":-1.08,"cat":"beta","mag":85},{"x":0.13,"y":-1.12,"cat":"alpha","mag":40},{"x":0.30,"y":-1.06,"cat":"gamma","mag":76},{"x":0.48,"y":-1.13,"cat":"delta","mag":93},{"x":0.66,"y":-1.08,"cat":"beta","mag":28},{"x":0.85,"y":-1.11,"cat":"alpha","mag":61},{"x":1.05,"y":-1.07,"cat":"gamma","mag":87},
{"x":-1.21,"y":-1.18,"cat":"delta","mag":55},{"x":-1.02,"y":-1.22,"cat":"beta","mag":11},{"x":-0.84,"y":-1.17,"cat":"gamma","mag":79},{"x":-0.66,"y":-1.23,"cat":"alpha","mag":95},{"x":-0.48,"y":-1.19,"cat":"delta","mag":37},{"x":-0.30,"y":-1.24,"cat":"beta","mag":68},{"x":-0.13,"y":-1.16,"cat":"gamma","mag":88},{"x":0.04,"y":-1.21,"cat":"alpha","mag":23},{"x":0.21,"y":-1.18,"cat":"delta","mag":74},{"x":0.39,"y":-1.23,"cat":"beta","mag":50},{"x":0.57,"y":-1.17,"cat":"gamma","mag":92},{"x":0.76,"y":-1.21,"cat":"alpha","mag":34},{"x":0.96,"y":-1.19,"cat":"delta","mag":67},
{"x":-1.12,"y":-1.29,"cat":"gamma","mag":81},{"x":-0.93,"y":-1.33,"cat":"alpha","mag":43},{"x":-0.75,"y":-1.27,"cat":"delta","mag":96},{"x":-0.57,"y":-1.32,"cat":"beta","mag":26},{"x":-0.39,"y":-1.26,"cat":"gamma","mag":70},{"x":-0.21,"y":-1.31,"cat":"alpha","mag":53},{"x":-0.04,"y":-1.28,"cat":"delta","mag":89},{"x":0.14,"y":-1.33,"cat":"beta","mag":14},{"x":0.32,"y":-1.27,"cat":"gamma","mag":77},{"x":0.50,"y":-1.32,"cat":"alpha","mag":98},{"x":0.69,"y":-1.26,"cat":"delta","mag":45},{"x":0.89,"y":-1.31,"cat":"beta","mag":63},
{"x":-1.02,"y":-1.41,"cat":"beta","mag":36},{"x":-0.83,"y":-1.37,"cat":"gamma","mag":85},{"x":-0.64,"y":-1.42,"cat":"alpha","mag":58},{"x":-0.46,"y":-1.38,"cat":"delta","mag":92},{"x":-0.28,"y":-1.43,"cat":"beta","mag":21},{"x":-0.10,"y":-1.36,"cat":"gamma","mag":74},{"x":0.08,"y":-1.41,"cat":"alpha","mag":47},{"x":0.26,"y":-1.38,"cat":"delta","mag":90},{"x":0.45,"y":-1.43,"cat":"beta","mag":31},{"x":0.64,"y":-1.37,"cat":"gamma","mag":66},{"x":0.84,"y":-1.42,"cat":"alpha","mag":83},
{"x":-0.93,"y":-1.52,"cat":"delta","mag":72},{"x":-0.73,"y":-1.47,"cat":"alpha","mag":16},{"x":-0.54,"y":-1.53,"cat":"gamma","mag":88},{"x":-0.35,"y":-1.46,"cat":"beta","mag":51},{"x":-0.17,"y":-1.51,"cat":"delta","mag":95},{"x":0.01,"y":-1.48,"cat":"alpha","mag":39},{"x":0.20,"y":-1.54,"cat":"gamma","mag":68},{"x":0.39,"y":-1.47,"cat":"beta","mag":84},{"x":0.58,"y":-1.52,"cat":"delta","mag":27},{"x":0.78,"y":-1.48,"cat":"alpha","mag":93},
{"x":-0.85,"y":-1.62,"cat":"gamma","mag":60},{"x":-0.60,"y":-1.58,"cat":"beta","mag":87},{"x":-0.36,"y":-1.63,"cat":"delta","mag":24},{"x":-0.12,"y":-1.57,"cat":"alpha","mag":78},{"x":0.10,"y":-1.61,"cat":"gamma","mag":45},{"x":0.33,"y":-1.56,"cat":"delta","mag":91},{"x":0.56,"y":-1.63,"cat":"beta","mag":13},{"x":0.80,"y":-1.59,"cat":"gamma","mag":70},
{"x":-1.05,"y":1.27,"cat":"delta","mag":63},{"x":-0.70,"y":1.22,"cat":"gamma","mag":18},{"x":-0.38,"y":1.29,"cat":"alpha","mag":87},{"x":-0.05,"y":1.24,"cat":"beta","mag":42},{"x":0.31,"y":1.21,"cat":"gamma","mag":95},{"x":0.62,"y":1.28,"cat":"delta","mag":29},{"x":1.00,"y":1.23,"cat":"beta","mag":71},
{"x":-1.28,"y":1.17,"cat":"alpha","mag":8},{"x":-0.89,"y":1.12,"cat":"gamma","mag":54},{"x":-0.60,"y":1.18,"cat":"delta","mag":90},{"x":-0.22,"y":1.13,"cat":"beta","mag":36},{"x":0.08,"y":1.16,"cat":"alpha","mag":77},{"x":0.40,"y":1.11,"cat":"gamma","mag":12},{"x":0.70,"y":1.18,"cat":"beta","mag":68},{"x":0.93,"y":1.14,"cat":"delta","mag":99},{"x":1.18,"y":1.16,"cat":"gamma","mag":47},
{"x":-1.33,"y":1.06,"cat":"beta","mag":23},{"x":-1.00,"y":1.03,"cat":"delta","mag":84},{"x":-0.69,"y":1.08,"cat":"alpha","mag":58},{"x":-0.46,"y":1.02,"cat":"gamma","mag":3},{"x":-0.20,"y":1.07,"cat":"beta","mag":75},{"x":0.12,"y":1.04,"cat":"delta","mag":40},{"x":0.38,"y":1.08,"cat":"gamma","mag":92},{"x":0.55,"y":1.02,"cat":"alpha","mag":31},{"x":0.78,"y":1.06,"cat":"beta","mag":66},{"x":1.20,"y":1.03,"cat":"delta","mag":14},
{"x":-1.40,"y":0.96,"cat":"gamma","mag":81},{"x":-1.13,"y":0.93,"cat":"alpha","mag":50},{"x":-0.84,"y":0.97,"cat":"beta","mag":97},{"x":-0.60,"y":0.92,"cat":"delta","mag":26},{"x":-0.33,"y":0.98,"cat":"gamma","mag":63},{"x":-0.04,"y":0.94,"cat":"alpha","mag":18},{"x":0.24,"y":0.96,"cat":"delta","mag":87},{"x":0.46,"y":0.92,"cat":"beta","mag":42},{"x":0.66,"y":0.97,"cat":"gamma","mag":95},{"x":1.03,"y":0.93,"cat":"alpha","mag":29},{"x":1.27,"y":0.96,"cat":"beta","mag":71},
{"x":-1.45,"y":0.86,"cat":"delta","mag":8},{"x":-1.22,"y":0.83,"cat":"beta","mag":54},{"x":-0.90,"y":0.87,"cat":"gamma","mag":90},{"x":-0.68,"y":0.82,"cat":"alpha","mag":36},{"x":-0.50,"y":0.88,"cat":"delta","mag":77},{"x":-0.14,"y":0.84,"cat":"beta","mag":12},{"x":0.06,"y":0.86,"cat":"gamma","mag":68},{"x":0.35,"y":0.82,"cat":"alpha","mag":99},{"x":0.60,"y":0.87,"cat":"delta","mag":47},{"x":0.90,"y":0.83,"cat":"beta","mag":23},{"x":1.12,"y":0.88,"cat":"gamma","mag":84},{"x":1.33,"y":0.84,"cat":"alpha","mag":58},
{"x":-1.50,"y":0.76,"cat":"beta","mag":3},{"x":-1.29,"y":0.73,"cat":"gamma","mag":75},{"x":-1.00,"y":0.77,"cat":"delta","mag":40},{"x":-0.77,"y":0.72,"cat":"alpha","mag":92},{"x":-0.60,"y":0.78,"cat":"beta","mag":31},{"x":-0.30,"y":0.74,"cat":"gamma","mag":66},{"x":-0.08,"y":0.76,"cat":"delta","mag":14},{"x":0.16,"y":0.72,"cat":"alpha","mag":81},{"x":0.43,"y":0.77,"cat":"beta","mag":50},{"x":0.62,"y":0.73,"cat":"gamma","mag":97},{"x":0.80,"y":0.78,"cat":"delta","mag":26},{"x":1.18,"y":0.74,"cat":"alpha","mag":63},{"x":1.40,"y":0.76,"cat":"gamma","mag":18},
{"x":-1.35,"y":0.66,"cat":"alpha","mag":87},{"x":-1.17,"y":0.63,"cat":"delta","mag":42},{"x":-0.97,"y":0.67,"cat":"beta","mag":95},{"x":-0.66,"y":0.62,"cat":"gamma","mag":29},{"x":-0.47,"y":0.68,"cat":"alpha","mag":71},{"x":-0.28,"y":0.64,"cat":"delta","mag":8},{"x":0.07,"y":0.66,"cat":"beta","mag":54},{"x":0.23,"y":0.62,"cat":"gamma","mag":90},{"x":0.40,"y":0.67,"cat":"alpha","mag":36},{"x":0.74,"y":0.63,"cat":"delta","mag":77},{"x":0.98,"y":0.68,"cat":"beta","mag":12},{"x":1.25,"y":0.64,"cat":"gamma","mag":68},{"x":1.45,"y":0.66,"cat":"delta","mag":99},
{"x":-1.55,"y":0.56,"cat":"gamma","mag":47},{"x":-1.23,"y":0.53,"cat":"beta","mag":23},{"x":-1.04,"y":0.57,"cat":"alpha","mag":84},{"x":-0.86,"y":0.52,"cat":"delta","mag":58},{"x":-0.68,"y":0.58,"cat":"gamma","mag":3},{"x":-0.35,"y":0.54,"cat":"alpha","mag":75},{"x":-0.16,"y":0.56,"cat":"beta","mag":40},{"x":0.05,"y":0.52,"cat":"delta","mag":92},{"x":0.24,"y":0.57,"cat":"gamma","mag":31},{"x":0.57,"y":0.53,"cat":"beta","mag":66},{"x":0.76,"y":0.58,"cat":"alpha","mag":14},{"x":0.94,"y":0.54,"cat":"gamma","mag":81},{"x":1.31,"y":0.56,"cat":"delta","mag":50},{"x":1.50,"y":0.53,"cat":"alpha","mag":97},
{"x":-1.42,"y":0.46,"cat":"delta","mag":26},{"x":-1.25,"y":0.43,"cat":"gamma","mag":63},{"x":-0.92,"y":0.47,"cat":"beta","mag":18},{"x":-0.75,"y":0.42,"cat":"alpha","mag":87},{"x":-0.57,"y":0.48,"cat":"delta","mag":42},{"x":-0.25,"y":0.44,"cat":"gamma","mag":95},{"x":-0.09,"y":0.46,"cat":"beta","mag":29},{"x":0.11,"y":0.42,"cat":"alpha","mag":71},{"x":0.45,"y":0.47,"cat":"gamma","mag":8},{"x":0.62,"y":0.43,"cat":"delta","mag":54},{"x":0.79,"y":0.48,"cat":"beta","mag":90},{"x":1.00,"y":0.44,"cat":"alpha","mag":36},{"x":1.18,"y":0.46,"cat":"gamma","mag":77},{"x":1.38,"y":0.42,"cat":"beta","mag":12},
{"x":-1.62,"y":0.36,"cat":"alpha","mag":68},{"x":-1.33,"y":0.33,"cat":"beta","mag":99},{"x":-1.15,"y":0.37,"cat":"delta","mag":47},{"x":-0.98,"y":0.32,"cat":"gamma","mag":23},{"x":-0.66,"y":0.38,"cat":"beta","mag":84},{"x":-0.47,"y":0.34,"cat":"alpha","mag":58},{"x":-0.31,"y":0.36,"cat":"delta","mag":3},{"x":-0.07,"y":0.32,"cat":"gamma","mag":75},{"x":0.21,"y":0.37,"cat":"alpha","mag":40},{"x":0.40,"y":0.33,"cat":"beta","mag":92},{"x":0.57,"y":0.38,"cat":"delta","mag":31},{"x":0.91,"y":0.34,"cat":"gamma","mag":66},{"x":1.08,"y":0.36,"cat":"alpha","mag":14},{"x":1.25,"y":0.32,"cat":"beta","mag":81},{"x":1.45,"y":0.37,"cat":"delta","mag":50},
{"x":-1.50,"y":0.26,"cat":"gamma","mag":97},{"x":-1.31,"y":0.23,"cat":"delta","mag":26},{"x":-1.00,"y":0.27,"cat":"beta","mag":63},{"x":-0.84,"y":0.22,"cat":"alpha","mag":18},{"x":-0.69,"y":0.28,"cat":"gamma","mag":87},{"x":-0.38,"y":0.24,"cat":"delta","mag":42},{"x":-0.20,"y":0.26,"cat":"alpha","mag":95},{"x":0.01,"y":0.22,"cat":"beta","mag":29},{"x":0.27,"y":0.27,"cat":"gamma","mag":71},{"x":0.45,"y":0.23,"cat":"delta","mag":8},{"x":0.60,"y":0.28,"cat":"alpha","mag":54},{"x":0.77,"y":0.24,"cat":"beta","mag":90},{"x":1.09,"y":0.26,"cat":"gamma","mag":36},{"x":1.29,"y":0.22,"cat":"delta","mag":77},{"x":1.47,"y":0.27,"cat":"alpha","mag":12},
{"x":-1.66,"y":0.16,"cat":"beta","mag":68},{"x":-1.48,"y":0.13,"cat":"alpha","mag":99},{"x":-1.16,"y":0.17,"cat":"gamma","mag":47},{"x":-0.98,"y":0.12,"cat":"delta","mag":23},{"x":-0.82,"y":0.18,"cat":"beta","mag":84},{"x":-0.52,"y":0.14,"cat":"alpha","mag":58},{"x":-0.37,"y":0.16,"cat":"gamma","mag":3},{"x":-0.04,"y":0.12,"cat":"delta","mag":75},{"x":0.12,"y":0.17,"cat":"beta","mag":40},{"x":0.28,"y":0.13,"cat":"alpha","mag":92},{"x":0.56,"y":0.18,"cat":"gamma","mag":31},{"x":0.72,"y":0.14,"cat":"delta","mag":66},{"x":0.90,"y":0.16,"cat":"beta","mag":14},{"x":1.20,"y":0.12,"cat":"alpha","mag":81},{"x":1.41,"y":0.17,"cat":"gamma","mag":50},
{"x":-1.55,"y":0.06,"cat":"delta","mag":97},{"x":-1.37,"y":0.03,"cat":"beta","mag":26},{"x":-1.22,"y":0.07,"cat":"alpha","mag":63},{"x":-0.90,"y":0.02,"cat":"gamma","mag":18},{"x":-0.73,"y":0.08,"cat":"delta","mag":87},{"x":-0.43,"y":0.04,"cat":"beta","mag":42},{"x":-0.26,"y":0.06,"cat":"alpha","mag":95},{"x":-0.09,"y":0.02,"cat":"gamma","mag":29},{"x":0.22,"y":0.07,"cat":"delta","mag":71},{"x":0.40,"y":0.03,"cat":"beta","mag":8},{"x":0.54,"y":0.08,"cat":"alpha","mag":54},{"x":0.85,"y":0.04,"cat":"gamma","mag":90},{"x":1.03,"y":0.06,"cat":"delta","mag":36},{"x":1.19,"y":0.02,"cat":"beta","mag":77},{"x":1.56,"y":0.07,"cat":"alpha","mag":12},
{"x":-1.70,"y":-0.04,"cat":"gamma","mag":68},{"x":-1.40,"y":-0.07,"cat":"delta","mag":99},{"x":-1.23,"y":-0.03,"cat":"beta","mag":47},{"x":-1.05,"y":-0.08,"cat":"alpha","mag":23},{"x":-0.75,"y":-0.02,"cat":"gamma","mag":84},{"x":-0.58,"y":-0.06,"cat":"delta","mag":58},{"x":-0.27,"y":-0.04,"cat":"beta","mag":3},{"x":-0.10,"y":-0.08,"cat":"alpha","mag":75},{"x":0.08,"y":-0.03,"cat":"gamma","mag":40},{"x":0.36,"y":-0.07,"cat":"delta","mag":92},{"x":0.53,"y":-0.02,"cat":"beta","mag":31},{"x":0.70,"y":-0.06,"cat":"alpha","mag":66},{"x":1.00,"y":-0.04,"cat":"gamma","mag":14},{"x":1.17,"y":-0.08,"cat":"delta","mag":81},{"x":1.38,"y":-0.03,"cat":"beta","mag":50},
{"x":-1.52,"y":-0.14,"cat":"alpha","mag":97},{"x":-1.36,"y":-0.17,"cat":"gamma","mag":26},{"x":-1.03,"y":-0.13,"cat":"delta","mag":63},{"x":-0.89,"y":-0.18,"cat":"beta","mag":18},{"x":-0.72,"y":-0.12,"cat":"alpha","mag":87},{"x":-0.42,"y":-0.16,"cat":"gamma","mag":42},{"x":-0.25,"y":-0.14,"cat":"delta","mag":95},{"x":-0.03,"y":-0.18,"cat":"beta","mag":29},{"x":0.24,"y":-0.13,"cat":"alpha","mag":71},{"x":0.40,"y":-0.17,"cat":"gamma","mag":8},{"x":0.56,"y":-0.12,"cat":"delta","mag":54},{"x":0.86,"y":-0.16,"cat":"beta","mag":90},{"x":1.05,"y":-0.14,"cat":"alpha","mag":36},{"x":1.29,"y":-0.18,"cat":"gamma","mag":77},{"x":1.50,"y":-0.13,"cat":"delta","mag":12},
{"x":-1.63,"y":-0.24,"cat":"beta","mag":68},{"x":-1.33,"y":-0.27,"cat":"alpha","mag":99},{"x":-1.17,"y":-0.23,"cat":"gamma","mag":47},{"x":-1.00,"y":-0.28,"cat":"delta","mag":23},{"x":-0.68,"y":-0.22,"cat":"beta","mag":84},{"x":-0.53,"y":-0.26,"cat":"alpha","mag":58},{"x":-0.37,"y":-0.24,"cat":"gamma","mag":3},{"x":-0.05,"y":-0.28,"cat":"delta","mag":75},{"x":0.12,"y":-0.23,"cat":"beta","mag":40},{"x":0.29,"y":-0.27,"cat":"alpha","mag":92},{"x":0.60,"y":-0.22,"cat":"gamma","mag":31},{"x":0.78,"y":-0.26,"cat":"delta","mag":66},{"x":0.93,"y":-0.24,"cat":"beta","mag":14},{"x":1.25,"y":-0.28,"cat":"alpha","mag":81},{"x":1.44,"y":-0.23,"cat":"gamma","mag":50},
{"x":-1.45,"y":-0.34,"cat":"delta","mag":97},{"x":-1.29,"y":-0.37,"cat":"beta","mag":26},{"x":-0.97,"y":-0.33,"cat":"alpha","mag":63},{"x":-0.82,"y":-0.38,"cat":"gamma","mag":18},{"x":-0.64,"y":-0.32,"cat":"delta","mag":87},{"x":-0.33,"y":-0.36,"cat":"beta","mag":42},{"x":-0.18,"y":-0.34,"cat":"alpha","mag":95},{"x":0.00,"y":-0.38,"cat":"gamma","mag":29},{"x":0.33,"y":-0.33,"cat":"delta","mag":71},{"x":0.50,"y":-0.37,"cat":"beta","mag":8},{"x":0.66,"y":-0.32,"cat":"alpha","mag":54},{"x":0.99,"y":-0.36,"cat":"gamma","mag":90},{"x":1.17,"y":-0.34,"cat":"delta","mag":36},{"x":1.36,"y":-0.38,"cat":"beta","mag":77},
{"x":-1.57,"y":-0.44,"cat":"alpha","mag":12},{"x":-1.24,"y":-0.47,"cat":"gamma","mag":68},{"x":-1.07,"y":-0.43,"cat":"delta","mag":99},{"x":-0.90,"y":-0.48,"cat":"beta","mag":47},{"x":-0.56,"y":-0.42,"cat":"alpha","mag":23},{"x":-0.40,"y":-0.46,"cat":"gamma","mag":84},{"x":-0.21,"y":-0.44,"cat":"delta","mag":58},{"x":0.13,"y":-0.48,"cat":"beta","mag":3},{"x":0.30,"y":-0.43,"cat":"alpha","mag":75},{"x":0.47,"y":-0.47,"cat":"gamma","mag":40},{"x":0.81,"y":-0.42,"cat":"delta","mag":92},{"x":0.98,"y":-0.46,"cat":"beta","mag":31},{"x":1.17,"y":-0.44,"cat":"alpha","mag":66},{"x":1.53,"y":-0.48,"cat":"gamma","mag":14},
{"x":-1.38,"y":-0.54,"cat":"beta","mag":81},{"x":-1.20,"y":-0.57,"cat":"alpha","mag":50},{"x":-1.00,"y":-0.53,"cat":"gamma","mag":97},{"x":-0.66,"y":-0.58,"cat":"delta","mag":26},{"x":-0.49,"y":-0.52,"cat":"beta","mag":63},{"x":-0.32,"y":-0.56,"cat":"alpha","mag":18},{"x":0.00,"y":-0.54,"cat":"gamma","mag":87},{"x":0.18,"y":-0.58,"cat":"delta","mag":42},{"x":0.36,"y":-0.53,"cat":"beta","mag":95},{"x":0.69,"y":-0.57,"cat":"alpha","mag":29},{"x":0.88,"y":-0.52,"cat":"gamma","mag":71},{"x":1.07,"y":-0.56,"cat":"delta","mag":8},{"x":1.25,"y":-0.54,"cat":"beta","mag":54},{"x":1.45,"y":-0.58,"cat":"alpha","mag":90},
{"x":-1.47,"y":-0.64,"cat":"gamma","mag":36},{"x":-1.15,"y":-0.67,"cat":"delta","mag":77},{"x":-0.95,"y":-0.63,"cat":"beta","mag":12},{"x":-0.78,"y":-0.68,"cat":"alpha","mag":68},{"x":-0.44,"y":-0.62,"cat":"gamma","mag":99},{"x":-0.27,"y":-0.66,"cat":"delta","mag":47},{"x":-0.10,"y":-0.64,"cat":"beta","mag":23},{"x":0.22,"y":-0.68,"cat":"alpha","mag":84},{"x":0.42,"y":-0.63,"cat":"gamma","mag":58},{"x":0.59,"y":-0.67,"cat":"delta","mag":3},{"x":0.95,"y":-0.62,"cat":"beta","mag":75},{"x":1.14,"y":-0.66,"cat":"alpha","mag":40},{"x":1.32,"y":-0.64,"cat":"gamma","mag":92},
{"x":-1.38,"y":-0.74,"cat":"delta","mag":31},{"x":-1.22,"y":-0.77,"cat":"beta","mag":66},{"x":-1.05,"y":-0.73,"cat":"alpha","mag":14},{"x":-0.70,"y":-0.78,"cat":"gamma","mag":81},{"x":-0.54,"y":-0.72,"cat":"delta","mag":50},{"x":-0.37,"y":-0.76,"cat":"beta","mag":97},{"x":-0.04,"y":-0.74,"cat":"alpha","mag":26},{"x":0.13,"y":-0.78,"cat":"gamma","mag":63},{"x":0.30,"y":-0.73,"cat":"delta","mag":18},{"x":0.66,"y":-0.77,"cat":"beta","mag":87},{"x":0.85,"y":-0.72,"cat":"alpha","mag":42},{"x":1.03,"y":-0.76,"cat":"gamma","mag":95},{"x":1.22,"y":-0.74,"cat":"delta","mag":29},
{"x":-1.34,"y":-0.84,"cat":"beta","mag":71},{"x":-1.16,"y":-0.87,"cat":"alpha","mag":8},{"x":-0.80,"y":-0.83,"cat":"gamma","mag":54},{"x":-0.63,"y":-0.88,"cat":"delta","mag":90},{"x":-0.46,"y":-0.82,"cat":"beta","mag":36},{"x":-0.12,"y":-0.86,"cat":"alpha","mag":77},{"x":0.05,"y":-0.84,"cat":"gamma","mag":12},{"x":0.22,"y":-0.88,"cat":"delta","mag":68},{"x":0.57,"y":-0.83,"cat":"beta","mag":99},{"x":0.75,"y":-0.87,"cat":"alpha","mag":47},{"x":0.95,"y":-0.82,"cat":"gamma","mag":23},{"x":1.14,"y":-0.86,"cat":"delta","mag":84},
{"x":-1.28,"y":-0.94,"cat":"alpha","mag":58},{"x":-0.90,"y":-0.97,"cat":"gamma","mag":3},{"x":-0.74,"y":-0.93,"cat":"delta","mag":75},{"x":-0.55,"y":-0.98,"cat":"beta","mag":40},{"x":-0.20,"y":-0.92,"cat":"alpha","mag":92},{"x":-0.03,"y":-0.96,"cat":"gamma","mag":31},{"x":0.14,"y":-0.94,"cat":"delta","mag":66},{"x":0.48,"y":-0.98,"cat":"beta","mag":14},{"x":0.66,"y":-0.93,"cat":"alpha","mag":81},{"x":0.85,"y":-0.97,"cat":"gamma","mag":50},{"x":1.05,"y":-0.92,"cat":"delta","mag":97},
{"x":-1.20,"y":-1.04,"cat":"beta","mag":26},{"x":-1.01,"y":-1.07,"cat":"alpha","mag":63},{"x":-0.65,"y":-1.03,"cat":"gamma","mag":18},{"x":-0.47,"y":-1.08,"cat":"delta","mag":87},{"x":-0.29,"y":-1.02,"cat":"beta","mag":42},{"x":0.05,"y":-1.06,"cat":"alpha","mag":95},{"x":0.22,"y":-1.04,"cat":"gamma","mag":29},{"x":0.40,"y":-1.08,"cat":"delta","mag":71},{"x":0.76,"y":-1.03,"cat":"beta","mag":8},{"x":0.95,"y":-1.07,"cat":"alpha","mag":54},
{"x":-1.12,"y":-1.14,"cat":"gamma","mag":90},{"x":-0.75,"y":-1.17,"cat":"delta","mag":36},{"x":-0.57,"y":-1.13,"cat":"beta","mag":77},{"x":-0.39,"y":-1.18,"cat":"alpha","mag":12},{"x":-0.05,"y":-1.12,"cat":"gamma","mag":68},{"x":0.12,"y":-1.16,"cat":"delta","mag":99},{"x":0.31,"y":-1.14,"cat":"beta","mag":47},{"x":0.67,"y":-1.18,"cat":"alpha","mag":23},{"x":0.87,"y":-1.13,"cat":"gamma","mag":84},
{"x":-0.90,"y":-1.24,"cat":"delta","mag":58},{"x":-0.55,"y":-1.27,"cat":"beta","mag":3},{"x":-0.36,"y":-1.23,"cat":"alpha","mag":75},{"x":-0.05,"y":-1.28,"cat":"gamma","mag":40},{"x":0.30,"y":-1.22,"cat":"delta","mag":92},{"x":0.48,"y":-1.26,"cat":"beta","mag":31},{"x":0.80,"y":-1.24,"cat":"alpha","mag":66}
]},
"hconcat":[
{"width":558,"height":522,"data":{"name":"pts"},
 "mark":{"type":"circle","size":48,"opacity":0.95},
 "encoding":{
  "x":{"field":"x","type":"quantitative","scale":{"domain":[-3.58,3.16],"nice":false,"zero":false},
   "axis":{"title":null,"values":[-3.4,-3.2,-3,-2.8,-2.6,-2.4,-2.2,-2,-1.8,-1.6,-1.4,-1.2,-1,-0.8,-0.6,-0.4,-0.2,0,0.2,0.4,0.6,0.8,1,1.2,1.4,1.6,1.8,2,2.2,2.4,2.6,2.8,3],
    "labelExpr":"abs(datum.value-round(datum.value))<0.001 ? ''+round(datum.value) : ''","ticks":false,"labelPadding":5,"labelColor":"#d4d4d4","labelFontSize":12,"labelFont":"Inter","domainColor":"#e6e6e6","domainWidth":1.2,"labelFlush":false,"labelOverlap":false,
    "gridColor":{"condition":{"test":"abs(datum.value/2-round(datum.value/2))<0.001","value":"#5f5f5f"},"value":"#464646"},
    "gridOpacity":{"condition":{"test":"abs(datum.value-round(datum.value))<0.001","value":1},"value":0.45}}},
  "y":{"field":"y","type":"quantitative","scale":{"domain":[-4.06,3.53],"nice":false,"zero":false},
   "axis":{"title":null,"values":[-4,-3.8,-3.6,-3.4,-3.2,-3,-2.8,-2.6,-2.4,-2.2,-2,-1.8,-1.6,-1.4,-1.2,-1,-0.8,-0.6,-0.4,-0.2,0,0.2,0.4,0.6,0.8,1,1.2,1.4,1.6,1.8,2,2.2,2.4,2.6,2.8,3,3.2,3.4],
    "labelExpr":"abs(datum.value-round(datum.value))<0.001 && datum.value>-3.5 ? ''+round(datum.value) : ''","ticks":false,"labelPadding":5,"labelColor":"#d4d4d4","labelFontSize":12,"labelFont":"Inter","domainColor":"#e6e6e6","domainWidth":1.2,"labelOverlap":false,
    "gridColor":{"condition":{"test":"abs(datum.value/2-round(datum.value/2))<0.001","value":"#5f5f5f"},"value":"#464646"},
    "gridOpacity":{"condition":{"test":"abs(datum.value-round(datum.value))<0.001","value":1},"value":0.45}}},
  "color":{"field":"cat","type":"nominal","scale":{"domain":["alpha","beta","delta","gamma"],"range":["#5aa8ff","#ffa24c","#6dcf6f","#ff6464"]},
   "legend":{"title":null,"orient":"top-right","offset":24,"padding":0,"symbolType":"square","symbolSize":100,"symbolStrokeWidth":0,"symbolOpacity":1,"labelColor":"#9a9a9a","labelFontSize":12.5,"labelFont":"Inter","labelOffset":14,"rowPadding":10}}
 }},
{"spacing":10,"hconcat":[
{"width":293,"height":522,"data":{"name":"pts"},
 "mark":{"type":"circle","opacity":0.9},
 "encoding":{
  "x":{"field":"x","type":"quantitative","scale":{"domain":[-3.95,3.52],"nice":false,"zero":false},
   "axis":{"title":null,"values":[-3.8,-3.6,-3.4,-3.2,-3,-2.8,-2.6,-2.4,-2.2,-2,-1.8,-1.6,-1.4,-1.2,-1,-0.8,-0.6,-0.4,-0.2,0,0.2,0.4,0.6,0.8,1,1.2,1.4,1.6,1.8,2,2.2,2.4,2.6,2.8,3,3.2,3.4],
    "labelExpr":"abs(datum.value-round(datum.value))<0.001 ? ''+round(datum.value) : ''","ticks":false,"labelPadding":5,"labelColor":"#d4d4d4","labelFontSize":12,"labelFont":"Inter","domainColor":"#e6e6e6","domainWidth":1.2,"labelFlush":false,"labelOverlap":false,
    "gridColor":{"condition":{"test":"abs(datum.value/2-round(datum.value/2))<0.001","value":"#5f5f5f"},"value":"#464646"},
    "gridOpacity":{"condition":{"test":"abs(datum.value-round(datum.value))<0.001","value":1},"value":0.45}}},
  "y":{"field":"y","type":"quantitative","scale":{"domain":[-4.18,3.65],"nice":false,"zero":false},
   "axis":{"title":null,"values":[-4,-3.8,-3.6,-3.4,-3.2,-3,-2.8,-2.6,-2.4,-2.2,-2,-1.8,-1.6,-1.4,-1.2,-1,-0.8,-0.6,-0.4,-0.2,0,0.2,0.4,0.6,0.8,1,1.2,1.4,1.6,1.8,2,2.2,2.4,2.6,2.8,3,3.2,3.4,3.6],
    "labelExpr":"abs(datum.value-round(datum.value))<0.001 ? ''+round(datum.value) : ''","ticks":false,"labelPadding":5,"labelColor":"#d4d4d4","labelFontSize":12,"labelFont":"Inter","domainColor":"#e6e6e6","domainWidth":1.2,"labelOverlap":false,
    "gridColor":{"condition":{"test":"abs(datum.value/2-round(datum.value/2))<0.001","value":"#5f5f5f"},"value":"#464646"},
    "gridOpacity":{"condition":{"test":"abs(datum.value-round(datum.value))<0.001","value":1},"value":0.45}}},
  "color":{"field":"mag","type":"quantitative","scale":{"scheme":"viridis","domain":[0,100]},"legend":null},
  "size":{"field":"mag","type":"quantitative","scale":{"domain":[0,100],"range":[12,250],"zero":false},"legend":null}
 }},
{"width":17,"height":519,"data":{"values":[{"lo":0,"hi":100}]},
 "mark":{"type":"rect","stroke":"#8a8a8a","strokeWidth":1,"color":{"gradient":"linear","x1":0,"y1":1,"x2":0,"y2":0,"stops":[{"offset":0,"color":"#440154"},{"offset":0.111,"color":"#482878"},{"offset":0.222,"color":"#3e4989"},{"offset":0.333,"color":"#31688e"},{"offset":0.444,"color":"#26828e"},{"offset":0.555,"color":"#1f9e89"},{"offset":0.666,"color":"#35b779"},{"offset":0.777,"color":"#6ece58"},{"offset":0.888,"color":"#b5de2b"},{"offset":1,"color":"#fde725"}]}},
 "encoding":{
  "y":{"field":"lo","type":"quantitative","scale":{"domain":[0,100],"nice":false},
   "axis":{"orient":"right","values":[0,2,4,6,8,10,12,14,16,18,20,22,24,26,28,30,32,34,36,38,40,42,44,46,48,50,52,54,56,58,60,62,64,66,68,70,72,74,76,78,80,82,84,86,88,90,92,94,96,98,100],
    "labelExpr":"datum.value % 10 === 0 && datum.value > 0 && datum.value < 100 ? ''+datum.value : ''",
    "grid":false,"domain":false,"ticks":true,"tickColor":"#8a8a8a","tickSize":{"condition":{"test":"datum.value % 10 === 0","value":-6},"value":-3},
    "labelPadding":10,"labelColor":"#a0a0a0","labelFontSize":12,"labelFont":"Inter","labelOverlap":false,"labelFlush":false,
    "title":"mag","titleX":-27,"titleY":260,"titleAngle":-90,"titleColor":"#888888","titleFontSize":11,"titleFontWeight":"normal","titleFont":"Inter","titleAlign":"center","titleBaseline":"middle"}},
  "y2":{"field":"hi"}
 }}
]}
],
"spacing":6
}
